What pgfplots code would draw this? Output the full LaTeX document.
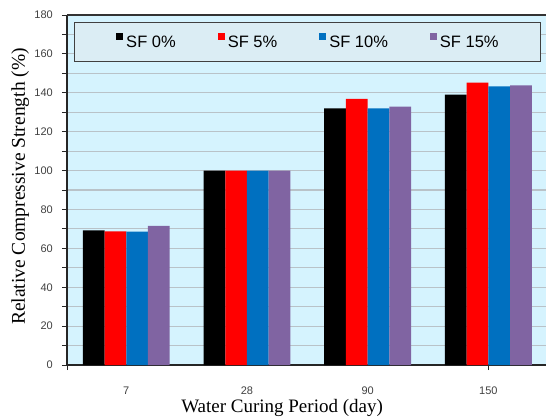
\documentclass[border=0pt]{standalone}
\usepackage{pgfplots}
\pgfplotsset{compat=1.18}
\usepackage{fontspec}
\setmainfont{Liberation Serif}
\newfontfamily\arial{Liberation Sans}
\definecolor{plotbg}{RGB}{213,243,254}
\definecolor{legbg}{RGB}{219,237,244}
\definecolor{gridc}{RGB}{185,194,200}
\definecolor{sfblue}{RGB}{0,112,192}
\definecolor{sfpurple}{RGB}{128,100,162}
\definecolor{tickc}{RGB}{64,64,64}
\begin{document}
\begin{tikzpicture}
\begin{axis}[
  scale only axis,
  width=479pt, height=350pt,
  xmin=-0.491, xmax=3.477,
  ymin=0, ymax=180,
  ybar=0pt, bar width=0.18,
  axis background/.style={fill=plotbg},
  axis lines*=left,
  axis line style={-, line width=1.1pt, black!85},
  tick align=outside,
  major tick length=5pt, minor tick length=5pt,
  ytick={0,20,...,180},
  minor y tick num=1,
  ymajorgrids, yminorgrids,
  major grid style={gridc, line width=1.1pt},
  minor grid style={gridc, line width=1.1pt},
  y tick style={black!85, line width=0.8pt},
  xtick={0,1,2,3},
  xticklabels={7,28,90,150},
  major x tick style={draw=none},
  extra x ticks={-0.491,3},
  extra x tick labels={},
  extra x tick style={major x tick style={draw=black!85, line width=0.8pt}},
  /pgf/number format/assume math mode=true,
  yticklabel style={font=\arial\fontsize{11}{13}\selectfont, text=tickc, anchor=east, inner sep=0pt, xshift=-9pt},
  xticklabel style={font=\arial\fontsize{11}{13}\selectfont, text=tickc, anchor=north, inner sep=0pt, yshift=-17pt},
  xlabel={Water Curing Period (day)},
  ylabel={Relative Compressive Strength (\%)},
  xlabel style={font=\fontsize{19}{22}\selectfont, at={(axis description cs:0.449,-0.1363)}, anchor=base},
  ylabel style={font=\fontsize{19.5}{22}\selectfont, at={(axis description cs:-0.0877,0.51)}, anchor=base, rotate=0},
  legend columns=4,
  legend image code/.code={\fill[#1] (0pt,2pt) rectangle (7pt,9pt);},
  legend style={at={(axis description cs:0.502,0.981)}, anchor=north,
    fill=legbg, draw=black!75, line width=0.9pt,
    font=\arial\fontsize{16.5}{18}\selectfont,
    inner xsep=42pt, inner ysep=11pt,
    nodes={inner xsep=0pt, inner ysep=2pt},
    /tikz/every odd column/.append style={column sep=3pt},
    /tikz/every even column/.append style={column sep=42pt}},
  clip=false,
]
\addplot[fill=black, draw=none] coordinates {(0,69.3) (1,100) (2,132) (3,139)};
\addplot[fill=red, draw=none] coordinates {(0,68.7) (1,100) (2,136.8) (3,145.2)};
\addplot[fill=sfblue, draw=none] coordinates {(0,68.6) (1,100) (2,132) (3,143.3)};
\addplot[fill=sfpurple, draw=none] coordinates {(0,71.5) (1,100) (2,132.9) (3,143.8)};
\legend{SF 0\%, SF 5\%, SF 10\%, SF 15\%}
\draw[black!80, line width=1.1pt] (rel axis cs:0,1) -- (rel axis cs:1,1);
\coordinate (bl) at (rel axis cs:0,0);
\coordinate (tr) at (rel axis cs:1,1);
\end{axis}
\pgfresetboundingbox
\path ([xshift=-67pt,yshift=-53pt]bl) rectangle ([yshift=15pt]tr);
\end{tikzpicture}
\end{document}
